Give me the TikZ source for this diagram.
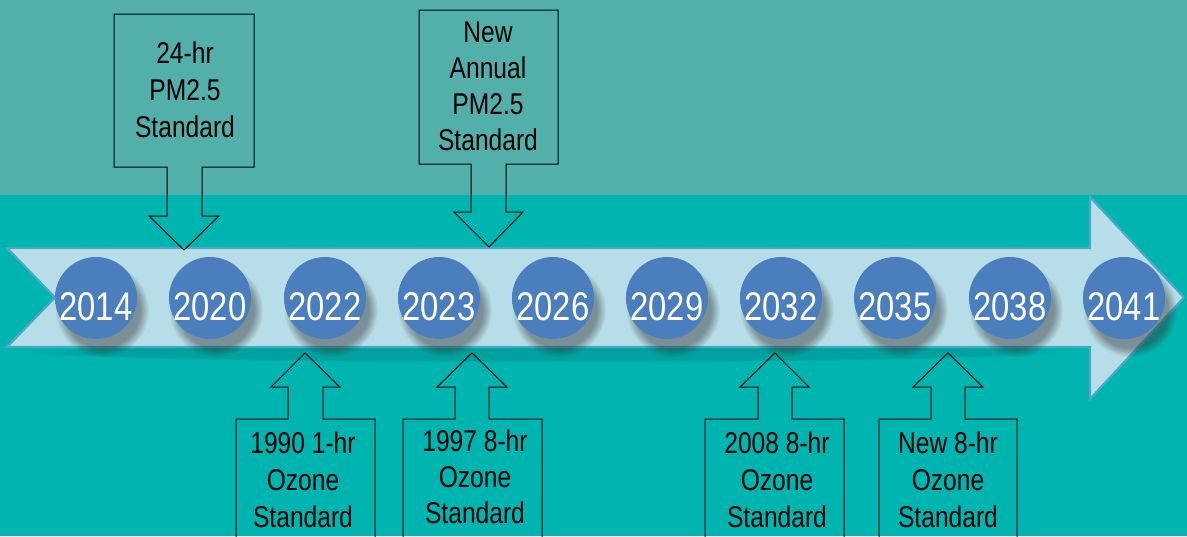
\documentclass[tikz,border=0pt]{standalone}
\usepackage{fontspec}
\newfontfamily\narrowfont[FakeStretch=0.82]{Liberation Sans}
\usetikzlibrary{shadows,fadings}
\definecolor{topband}{RGB}{83,175,170}
\definecolor{botband}{RGB}{0,180,176}
\definecolor{arrowfill}{RGB}{183,222,232}
\definecolor{arrowedge}{RGB}{74,170,196}
\definecolor{ballc}{RGB}{74,126,188}
\definecolor{ballm}{RGB}{90,150,216}
\definecolor{balle}{RGB}{150,212,255}
\pgfdeclareradialshading{ball}{\pgfpoint{0bp}{0bp}}{color(0bp)=(ballc); color(28bp)=(ballc); color(41bp)=(ballm); color(48bp)=(balle); color(50bp)=(balle)}
\begin{document}
\begin{tikzpicture}[x=1pt,y=-1pt,
  year/.style={circle,minimum size=82pt,inner sep=0pt,shading=ball},
  yearshadow/.style={fill=black!80,opacity=0.45,path fading=circle with fuzzy edge 20 percent},
  yeartxt/.style={anchor=base,text=white,inner sep=0pt,font=\narrowfont\fontsize{40}{40}\selectfont},
  callout/.style={draw=black,line width=1pt,line join=miter},
  calltxt/.style={align=center,inner sep=0pt,text=black,font=\narrowfont\fontsize{30}{37}\selectfont}]
\useasboundingbox (0,0) rectangle (1187,536);
\clip (0,0) rectangle (1187,536);
\fill[topband] (0,0) rectangle (1187,195);
\fill[botband] (0,195) rectangle (1187,536);
% big arrow
\fill[black,opacity=0.10,path fading=circle with fuzzy edge 15 percent] (20,342) rectangle (1070,362);
\draw[fill=arrowfill,draw=arrowedge,line width=2.2pt,line join=miter]
  (7,248) -- (1090,248) -- (1090,197) -- (1184,297.5) -- (1090,399) -- (1090,347) -- (7,347) -- (55,297.5) -- cycle;
% years
\foreach \n/\x/\yr in {a/96/2014,b/210/2020,c/325/2022,d/439/2023,e/553/2026,f/667/2029,g/781/2032,h/895/2035,i/1010/2038,j/1124/2041}{
  \fill[yearshadow] (\x+6,310) circle[radius=47];
  \node[year] (y\n) at (\x,298) {};
  \node[yeartxt] (t\n) at (\x,320) {\yr};
}
% top callouts
\draw[callout] (114,14) -- (254,14) -- (254,167) -- (202,167) -- (202,216) -- (219,216) -- (184,250) -- (149,216) -- (167,216) -- (167,167) -- (114,167) -- cycle;
\node[calltxt] (pm24) at (185,90) {24-hr\\PM2.5\\Standard};
\draw[callout] (419,10) -- (558,10) -- (558,164) -- (506,164) -- (506,212) -- (523,212) -- (489,247) -- (454,212) -- (471,212) -- (471,164) -- (419,164) -- cycle;
\node[calltxt,font=\narrowfont\fontsize{30}{36}\selectfont] (pmann) at (488,86) {New\\Annual\\PM2.5\\Standard};
% bottom callouts
\draw[callout] (236,545) -- (236,419) -- (288,419) -- (288,387) -- (271,387) -- (305,353) -- (340,387) -- (323,387) -- (323,419) -- (375,419) -- (375,545);
\node[calltxt] (oz90) at (303,480) {1990 1-hr\\Ozone\\Standard};
\draw[callout] (403,545) -- (403,419) -- (455,419) -- (455,387) -- (437,387) -- (472,353) -- (507,387) -- (489,387) -- (489,419) -- (542,419) -- (542,545);
\node[calltxt,font=\narrowfont\fontsize{30}{36}\selectfont] (oz97) at (475,476.5) {1997 8-hr\\Ozone\\Standard};
\draw[callout] (705,545) -- (705,419) -- (758,419) -- (758,387) -- (740,387) -- (775,353) -- (809,387) -- (792,387) -- (792,419) -- (844,419) -- (844,545);
\node[calltxt] (oz08) at (777,480) {2008 8-hr\\Ozone\\Standard};
\draw[callout] (879,545) -- (879,419) -- (931,419) -- (931,387) -- (913,387) -- (948,353) -- (983,387) -- (965,387) -- (965,419) -- (1017,419) -- (1017,545);
\node[calltxt] (oznew) at (948,480) {New 8-hr\\Ozone\\Standard};
\end{tikzpicture}
\end{document}
